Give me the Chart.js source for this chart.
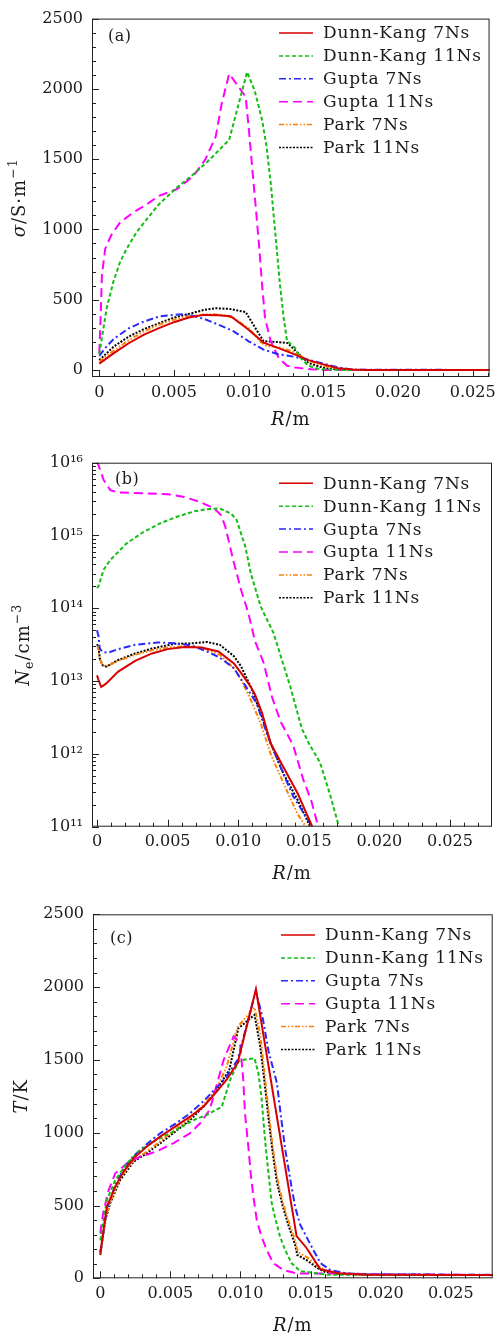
<!DOCTYPE html>
<html>
<head>
<meta charset="utf-8">
<script src="https://cdn.jsdelivr.net/npm/chart.js@4.4.1/dist/chart.umd.min.js"></script>
<style>
  html, body { margin: 0; padding: 0; background: #fff; }
  canvas { position: absolute; left: 0; }
</style>
</head>
<body>
<canvas id="chartA" width="502" height="440" style="top:0"></canvas>
<canvas id="chartB" width="502" height="440" style="top:440px"></canvas>
<canvas id="chartC" width="502" height="458" style="top:880px"></canvas>
<script>
/* ── Series names (legend order) ── */
const seriesNames = ['Dunn-Kang 7Ns', 'Dunn-Kang 11Ns', 'Gupta 7Ns', 'Gupta 11Ns', 'Park 7Ns', 'Park 11Ns'];

/* ── Tick labels ── */
const xTicks = [0, 0.005, 0.010, 0.015, 0.020, 0.025];
const xTickLabels = ['0', '0.005', '0.010', '0.015', '0.020', '0.025'];
const sigmaTicks = [0, 500, 1000, 1500, 2000, 2500];
const sigmaTickLabels = ['0', '500', '1000', '1500', '2000', '2500'];
const neTicks = [1e11, 1e12, 1e13, 1e14, 1e15, 1e16];
const neTickLabels = ['10¹¹', '10¹²', '10¹³', '10¹⁴', '10¹⁵', '10¹⁶'];
const tTicks = [0, 500, 1000, 1500, 2000, 2500];
const tTickLabels = ['0', '500', '1000', '1500', '2000', '2500'];

/* ── (a) conductivity σ, S/m ── */
const rA_dk7 = [0, 0.001, 0.002, 0.003, 0.004, 0.005, 0.006, 0.007, 0.008, 0.0088, 0.010, 0.011, 0.012, 0.013, 0.014, 0.015, 0.016, 0.017, 0.018, 0.0265];
const sA_dk7 = [45, 122, 192, 251, 298, 340, 373, 392, 390, 383, 286, 195, 155, 115, 70, 40, 12, 3, 0, 0];
const rA_dk11 = [0, 0.00018, 0.0005, 0.00095, 0.0014, 0.00184, 0.0025, 0.0032, 0.004, 0.0052, 0.0063, 0.0074, 0.0087, 0.0094, 0.0099, 0.0104, 0.0109, 0.0112, 0.0115, 0.0117, 0.0119, 0.0121, 0.01235, 0.01257, 0.0131, 0.01345, 0.014, 0.0147, 0.016, 0.0265];
const sA_dk11 = [113, 230, 441, 629, 770, 863, 981, 1075, 1180, 1298, 1392, 1497, 1638, 1920, 2120, 1990, 1779, 1592, 1310, 1075, 840, 606, 370, 206, 159, 89, 30, 7, 0, 0];
const rA_gu7 = [0, 0.0005, 0.001, 0.002, 0.003, 0.004, 0.005, 0.0055, 0.006, 0.007, 0.008, 0.009, 0.010, 0.011, 0.012, 0.013, 0.014, 0.015, 0.016, 0.017, 0.0265];
const sA_gu7 = [100, 169, 223, 298, 345, 380, 392, 397, 392, 364, 322, 275, 204, 145, 112, 95, 72, 45, 18, 2, 0];
const rA_gu11 = [0, 0.0001, 0.00018, 0.0004, 0.0008, 0.0014, 0.0023, 0.0032, 0.004, 0.0052, 0.0063, 0.0071, 0.0078, 0.0082, 0.0087, 0.0098, 0.0100, 0.01025, 0.01047, 0.0107, 0.0109, 0.0111, 0.01147, 0.012, 0.01257, 0.0131, 0.0142, 0.015, 0.0265];
const sA_gu11 = [120, 394, 676, 863, 958, 1051, 1122, 1180, 1239, 1286, 1380, 1497, 1662, 1896, 2108, 1944, 1732, 1427, 1169, 887, 606, 370, 206, 89, 30, 18, 5, 0, 0];
const rA_pa7 = [0, 0.001, 0.002, 0.003, 0.004, 0.005, 0.006, 0.007, 0.0077, 0.0085, 0.009, 0.010, 0.0108, 0.0112, 0.012, 0.013, 0.014, 0.015, 0.016, 0.017, 0.0265];
const sA_pa7 = [60, 140, 214, 275, 322, 358, 383, 395, 397, 385, 370, 298, 200, 170, 163, 130, 68, 30, 8, 0, 0];
const rA_pa11 = [0, 0.001, 0.002, 0.003, 0.004, 0.005, 0.006, 0.007, 0.0078, 0.0087, 0.0098, 0.0105, 0.011, 0.0118, 0.0126, 0.0135, 0.014, 0.015, 0.016, 0.017, 0.0265];
const sA_pa11 = [70, 169, 239, 291, 333, 373, 399, 427, 439, 435, 412, 290, 205, 200, 192, 100, 50, 15, 3, 0, 0];

/* ── (b) electron density Ne, cm^-3 ── */
const rB_dk7 = [0, 0.0001, 0.0003, 0.00066, 0.0015, 0.0027, 0.0039, 0.005, 0.0062, 0.0074, 0.0086, 0.0097, 0.0102, 0.0109, 0.0112, 0.0117, 0.0123, 0.0132, 0.0142, 0.01525];
const nB_dk7 = [1.2e13, 1.05e13, 8.3e12, 9.3e12, 1.35e13, 1.9e13, 2.4e13, 2.75e13, 2.95e13, 2.9e13, 2.55e13, 1.75e13, 1.3e13, 8.3e12, 6.5e12, 3.6e12, 1.4e12, 6.6e11, 2.9e11, 1e11];
const rB_dk11 = [0, 0.0001, 0.00047, 0.00094, 0.0021, 0.0033, 0.0045, 0.0057, 0.0069, 0.0078, 0.0087, 0.0095, 0.0099, 0.0105, 0.0109, 0.0116, 0.0125, 0.0137, 0.0145, 0.015, 0.0158, 0.0165, 0.01714];
const nB_dk11 = [1.9e14, 2.0e14, 3.4e14, 4.6e14, 7.8e14, 1.12e15, 1.48e15, 1.82e15, 2.15e15, 2.3e15, 2.35e15, 2.0e15, 1.62e15, 7.1e14, 3.0e14, 1.05e14, 4.6e13, 8.3e12, 2.25e12, 1.4e12, 7.6e11, 2.8e11, 1e11];
const rB_gu7 = [0, 0.0001, 0.0002, 0.0004, 0.00078, 0.0015, 0.0027, 0.0043, 0.0055, 0.0067, 0.0079, 0.0087, 0.0097, 0.0104, 0.0113, 0.0121, 0.013, 0.0139, 0.01525];
const nB_gu7 = [5.0e13, 4.2e13, 2.8e13, 2.5e13, 2.45e13, 2.75e13, 3.15e13, 3.4e13, 3.3e13, 3.1e13, 2.5e13, 2.1e13, 1.5e13, 9.3e12, 5.0e12, 1.75e12, 6.6e11, 2.6e11, 1e11];
const rB_gu11 = [0, 0.00047, 0.00094, 0.00153, 0.0033, 0.005, 0.0061, 0.0073, 0.0083, 0.0088, 0.0091, 0.0097, 0.0102, 0.0107, 0.0112, 0.0118, 0.0124, 0.013, 0.0139, 0.0146, 0.0152, 0.01567];
const nB_gu11 = [1.05e16, 5.8e15, 4.2e15, 3.9e15, 3.8e15, 3.7e15, 3.4e15, 2.9e15, 2.35e15, 1.9e15, 1.3e15, 4.2e14, 1.8e14, 8.9e13, 3.5e13, 1.8e13, 6.0e12, 2.8e12, 1.3e12, 4.5e11, 2.2e11, 1e11];
const rB_pa7 = [0, 0.0001, 0.0002, 0.0004, 0.00066, 0.0015, 0.0027, 0.0039, 0.005, 0.0062, 0.0074, 0.0087, 0.0097, 0.0102, 0.0109, 0.0116, 0.0123, 0.0132, 0.0142, 0.0148];
const nB_pa7 = [3.0e13, 2.9e13, 2.0e13, 1.65e13, 1.58e13, 1.9e13, 2.3e13, 2.65e13, 2.9e13, 3.0e13, 2.9e13, 2.3e13, 1.5e13, 1.05e13, 5.5e12, 2.6e12, 1.0e12, 4.0e11, 1.5e11, 1e11];
const rB_pa11 = [0, 0.0001, 0.0002, 0.0004, 0.00066, 0.0015, 0.0027, 0.0039, 0.0055, 0.0067, 0.0078, 0.0087, 0.0097, 0.0102, 0.0109, 0.0116, 0.0123, 0.0132, 0.0142, 0.0151];
const nB_pa11 = [3.2e13, 2.95e13, 2.05e13, 1.65e13, 1.58e13, 1.95e13, 2.4e13, 2.8e13, 3.25e13, 3.3e13, 3.45e13, 3.15e13, 2.2e13, 1.6e13, 8.3e12, 3.6e12, 1.4e12, 5.4e11, 2.35e11, 1e11];

/* ── (c) temperature T, K ── */
const rC_dk7 = [0, 0.00047, 0.00107, 0.00166, 0.00237, 0.0033, 0.00427, 0.00534, 0.0064, 0.00736, 0.0083, 0.009, 0.0098, 0.0111, 0.014, 0.0147, 0.0157, 0.017, 0.019, 0.0285];
const tC_dk7 = [170, 492, 630, 733, 824, 904, 973, 1042, 1110, 1179, 1282, 1362, 1480, 1985, 290, 210, 62, 35, 25, 22];
const rC_dk11 = [0, 0.00047, 0.00107, 0.0019, 0.00285, 0.004, 0.0052, 0.00665, 0.0076, 0.00867, 0.00926, 0.00985, 0.0104, 0.011, 0.01128, 0.0115, 0.01175, 0.012, 0.01223, 0.01246, 0.01282, 0.01318, 0.01365, 0.01425, 0.015, 0.0162, 0.0285];
const tC_dk11 = [260, 538, 675, 790, 881, 950, 1007, 1087, 1122, 1179, 1362, 1488, 1504, 1511, 1408, 1240, 950, 720, 515, 420, 286, 195, 103, 50, 40, 25, 22];
const rC_gu7 = [0, 0.00047, 0.00107, 0.00166, 0.00237, 0.0033, 0.00427, 0.00534, 0.0064, 0.0074, 0.0084, 0.009, 0.0098, 0.0105, 0.0111, 0.0116, 0.012, 0.0126, 0.0129, 0.0132, 0.01353, 0.0139, 0.01425, 0.015, 0.0157, 0.0164, 0.0176, 0.019, 0.0285];
const tC_gu7 = [180, 480, 640, 750, 840, 920, 996, 1060, 1133, 1220, 1320, 1385, 1500, 1760, 1975, 1780, 1560, 1340, 1100, 880, 690, 490, 370, 230, 105, 57, 34, 27, 24];
const rC_gu11 = [0, 0.0002, 0.0006, 0.00107, 0.0019, 0.00285, 0.004, 0.0052, 0.0064, 0.00712, 0.0078, 0.0082, 0.0088, 0.0095, 0.00997, 0.0102, 0.01032, 0.01056, 0.01073, 0.01092, 0.01116, 0.0115, 0.01187, 0.01234, 0.01306, 0.014, 0.0285];
const tC_gu11 = [309, 446, 607, 721, 790, 836, 870, 927, 996, 1065, 1156, 1293, 1500, 1660, 1614, 1362, 1133, 904, 721, 561, 400, 286, 195, 103, 57, 34, 22];
const rC_pa7 = [0, 0.00036, 0.0007, 0.00142, 0.00237, 0.0033, 0.00427, 0.00534, 0.0064, 0.00736, 0.0083, 0.009, 0.0098, 0.011, 0.0114, 0.0117, 0.012, 0.0123, 0.0126, 0.013, 0.0134, 0.0139, 0.0141, 0.0148, 0.0156, 0.0162, 0.017, 0.019, 0.0285];
const tC_pa7 = [165, 410, 525, 690, 810, 870, 940, 1020, 1100, 1190, 1305, 1450, 1728, 1860, 1680, 1420, 1150, 900, 700, 530, 400, 260, 180, 140, 80, 50, 32, 25, 22];
const rC_pa11 = [0, 0.00036, 0.0007, 0.00142, 0.00237, 0.0033, 0.00427, 0.00534, 0.0064, 0.00736, 0.0083, 0.0092, 0.00985, 0.011, 0.0114, 0.0117, 0.012, 0.0123, 0.0126, 0.013, 0.0134, 0.0139, 0.01405, 0.0147, 0.0155, 0.016, 0.017, 0.019, 0.0285];
const tC_pa11 = [160, 400, 515, 675, 801, 858, 927, 1007, 1087, 1179, 1293, 1431, 1717, 1809, 1600, 1360, 1100, 860, 660, 500, 370, 230, 160, 126, 70, 45, 30, 25, 22];

(function () {
    'use strict';

    const FONT = '"DejaVu Serif", "Liberation Serif", serif';
    const INK = '#1a1a1a';

    /* ── Line styles, same order as seriesNames ── */
    const lineStyles = [
        { color: 'rgb(214,0,0)', dash: [] },
        { color: 'rgb(20,190,20)', dash: [4, 2.5] },
        { color: 'rgb(40,40,255)', dash: [7, 3, 2, 3] },
        { color: 'rgb(255,0,255)', dash: [9, 5] },
        { color: 'rgb(255,128,0)', dash: [5, 2, 1.5, 2, 1.5, 2] },
        { color: 'rgb(0,0,0)', dash: [2, 1.5] },
    ];

    function toPoints(xs, ys) {
        return xs.map((x, i) => ({ x: x, y: ys[i] }));
    }

    /* ── Text with italic / sub / superscript parts ── */
    function drawRich(ctx, parts, cx, cy, rotated, size) {
        ctx.save();
        ctx.translate(cx, cy);
        if (rotated) ctx.rotate(-Math.PI / 2);
        ctx.letterSpacing = '1px';
        const fonts = parts.map((p) => (p.it ? 'italic ' : '') + (p.small ? size * 0.7 : size) + 'px ' + FONT);
        let w = 0;
        parts.forEach((p, i) => { ctx.font = fonts[i]; w += ctx.measureText(p.t).width; });
        let x = -w / 2;
        ctx.fillStyle = INK;
        ctx.textBaseline = 'alphabetic';
        parts.forEach((p, i) => {
            ctx.font = fonts[i];
            ctx.fillText(p.t, x, size * 0.36 + (p.dy || 0) * size);
            x += ctx.measureText(p.t).width;
        });
        ctx.restore();
    }

    function seg(ctx, x1, y1, x2, y2) {
        ctx.beginPath();
        ctx.moveTo(x1, y1);
        ctx.lineTo(x2, y2);
        ctx.stroke();
    }

    /* ── Frame, inward ticks, legend, labels ── */
    const decorPlugin = {
        id: 'decor',
        afterDraw(chart) {
            const o = chart.options.plugins.decor;
            const ctx = chart.ctx;
            const a = chart.chartArea;
            const xs = chart.scales.x;
            const ys = chart.scales.y;

            ctx.save();
            ctx.strokeStyle = '#222';
            ctx.lineWidth = 1;
            ctx.strokeRect(a.left + 0.5, a.top + 0.5, a.right - a.left - 1, a.bottom - a.top - 1);

            // x ticks every 0.001, major every 0.005
            for (let i = 0; i * 0.001 <= xs.max; i++) {
                const px = Math.round(xs.getPixelForValue(i * 0.001)) + 0.5;
                seg(ctx, px, a.bottom, px, a.bottom - (i % 5 === 0 ? 7 : 4));
            }
            // y ticks
            if (o.log) {
                for (let d = 11; d <= 16; d++) {
                    for (let m = 1; m <= 9; m++) {
                        const v = m * Math.pow(10, d);
                        if (v > ys.max * 1.0001) break;
                        const py = Math.round(ys.getPixelForValue(v)) + 0.5;
                        seg(ctx, a.left, py, a.left + (m === 1 ? 7 : 4), py);
                    }
                }
            } else {
                for (let i = 0; i * 100 <= ys.max; i++) {
                    const py = Math.round(ys.getPixelForValue(i * 100)) + 0.5;
                    seg(ctx, a.left, py, a.left + (i % 5 === 0 ? 7 : 4), py);
                }
            }

            // legend
            chart.data.datasets.forEach((ds, i) => {
                const y = o.legendY + i * 22.9;
                ctx.strokeStyle = ds.borderColor;
                ctx.setLineDash(ds.borderDash);
                ctx.lineWidth = 1.5;
                seg(ctx, o.legendX, y, o.legendX + 34, y);
                ctx.setLineDash([]);
                ctx.fillStyle = INK;
                ctx.font = '17px ' + FONT;
                ctx.letterSpacing = '0.8px';
                ctx.textBaseline = 'middle';
                ctx.fillText(ds.label, o.legendX + 44, y + 1);
            });

            // panel letter
            ctx.letterSpacing = '0.5px';
            ctx.font = '16px ' + FONT;
            ctx.fillStyle = INK;
            ctx.textBaseline = 'middle';
            ctx.fillText(o.tag, o.tagX, o.tagY);
            ctx.restore();

            drawRich(ctx, o.yTitle, o.yTitleX, (a.top + a.bottom) / 2, true, 18);
            drawRich(ctx, [{ t: 'R', it: true }, { t: '/m' }], (a.left + a.right) / 2, o.xTitleY, false, 18);
        },
    };

    function makePanel(id, p) {
        const ctx = document.getElementById(id);
        const tickFont = { family: FONT, size: 16 };
        new Chart(ctx, {
            type: 'line',
            data: {
                datasets: p.series.map((s, i) => ({
                    label: seriesNames[i],
                    data: toPoints(s[0], s[1]),
                    borderColor: lineStyles[i].color,
                    borderDash: lineStyles[i].dash,
                    borderWidth: 2,
                    pointRadius: 0,
                    tension: 0,
                    fill: false,
                })),
            },
            options: {
                responsive: false,
                animation: false,
                layout: { padding: { top: p.padTop, right: p.padRight, left: 0, bottom: 0 } },
                plugins: {
                    legend: { display: false },
                    tooltip: { enabled: false },
                    decor: p.decor,
                },
                scales: {
                    x: {
                        type: 'linear',
                        min: p.xMin,
                        max: p.xMax,
                        grid: { display: false, drawTicks: false },
                        border: { display: false },
                        afterBuildTicks: (ax) => { ax.ticks = xTicks.map((v) => ({ value: v })); },
                        afterFit: (ax) => { ax.height = p.xAxisH; },
                        ticks: {
                            font: tickFont, color: INK, padding: 6, maxRotation: 0, autoSkip: false,
                            callback: (v, i) => xTickLabels[i],
                        },
                    },
                    y: {
                        type: p.decor.log ? 'logarithmic' : 'linear',
                        min: p.yMin,
                        max: p.yMax,
                        grid: { display: false, drawTicks: false },
                        border: { display: false },
                        afterBuildTicks: (ax) => { ax.ticks = p.yTicks.map((v) => ({ value: v })); },
                        afterFit: (ax) => { ax.width = p.yAxisW; },
                        ticks: {
                            font: tickFont, color: INK, padding: 9, autoSkip: false,
                            callback: (v, i) => p.yTickLabels[i],
                        },
                    },
                },
            },
            plugins: [decorPlugin],
        });
    }

    function init() {
        makePanel('chartA', {
            series: [[rA_dk7, sA_dk7], [rA_dk11, sA_dk11], [rA_gu7, sA_gu7], [rA_gu11, sA_gu11], [rA_pa7, sA_pa7], [rA_pa11, sA_pa11]],
            xMin: -0.000485, xMax: 0.02613, yMin: -50, yMax: 2500,
            yTicks: sigmaTicks, yTickLabels: sigmaTickLabels,
            padTop: 13, padRight: 10, yAxisW: 92, xAxisH: 63,
            decor: {
                log: false, legendX: 279, legendY: 33, tag: '(a)', tagX: 108, tagY: 37,
                yTitleX: 19, xTitleY: 419,
                yTitle: [{ t: 'σ', it: true }, { t: '/S·m' }, { t: '−1', small: true, dy: -0.45 }],
            },
        });
        makePanel('chartB', {
            series: [[rB_dk7, nB_dk7], [rB_dk11, nB_dk11], [rB_gu7, nB_gu7], [rB_gu11, nB_gu11], [rB_pa7, nB_pa7], [rB_pa11, nB_pa11]],
            xMin: -0.000354, xMax: 0.02798, yMin: 1e11, yMax: 1e16,
            yTicks: neTicks, yTickLabels: neTickLabels,
            padTop: 22.7, padRight: 10, yAxisW: 92, xAxisH: 53.3,
            decor: {
                log: true, legendX: 279, legendY: 43.3, tag: '(b)', tagX: 115, tagY: 40,
                yTitleX: 23, xTitleY: 433,
                yTitle: [{ t: 'N', it: true }, { t: 'e', small: true, dy: 0.2 }, { t: '/cm' }, { t: '−3', small: true, dy: -0.45 }],
            },
        });
        makePanel('chartC', {
            series: [[rC_dk7, tC_dk7], [rC_dk11, tC_dk11], [rC_gu7, tC_gu7], [rC_gu11, tC_gu11], [rC_pa7, tC_pa7], [rC_pa11, tC_pa11]],
            xMin: -0.00052, xMax: 0.02799, yMin: 0, yMax: 2500,
            yTicks: tTicks, yTickLabels: tTickLabels,
            padTop: 34.3, padRight: 9.3, yAxisW: 93, xAxisH: 59.7,
            decor: {
                log: false, legendX: 281, legendY: 55, tag: '(c)', tagX: 110, tagY: 59,
                yTitleX: 21, xTitleY: 445,
                yTitle: [{ t: 'T', it: true }, { t: '/K' }],
            },
        });
    }

    if (document.readyState === 'loading') {
        document.addEventListener('DOMContentLoaded', init);
    } else {
        init();
    }
})();
</script>
</body>
</html>
